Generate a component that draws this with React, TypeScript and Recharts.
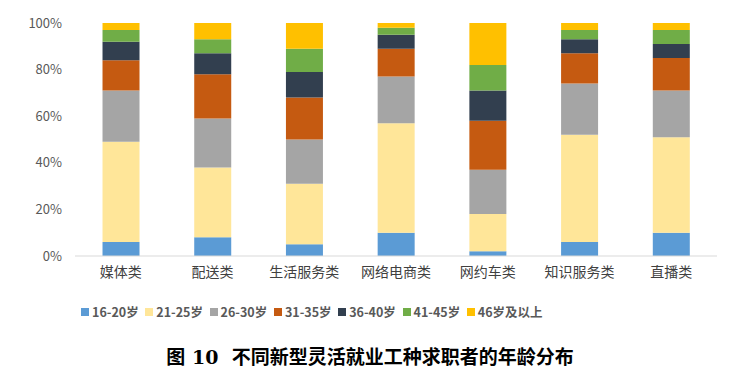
import React from "react";
import { BarChart, Bar, XAxis, YAxis, Legend } from "recharts";

const categories = ["媒体类", "配送类", "生活服务类", "网络电商类", "网约车类", "知识服务类", "直播类"];
const seriesNames = ["16-20岁", "21-25岁", "26-30岁", "31-35岁", "36-40岁", "41-45岁", "46岁及以上"];
const seriesColors = ["#5B9BD5", "#FFE699", "#A5A5A5", "#C55A11", "#323F4F", "#70AD47", "#FFC000"];

const age16_20 = [6, 8, 5, 10, 2, 6, 10];
const age21_25 = [43, 30, 26, 47, 16, 46, 41];
const age26_30 = [22, 21, 19, 20, 19, 22, 20];
const age31_35 = [13, 19, 18, 12, 21, 13, 14];
const age36_40 = [8, 9, 11, 6, 13, 6, 6];
const age41_45 = [5, 6, 10, 3, 11, 4, 6];
const age46plus = [3, 7, 11, 2, 18, 3, 3];

const yTicks = [0, 20, 40, 60, 80, 100];

const seriesValues = [age16_20, age21_25, age26_30, age31_35, age36_40, age41_45, age46plus];

const data = categories.map((c, i) => {
  const row: Record<string, string | number> = { name: c };
  seriesNames.forEach((s, k) => {
    row[s] = seriesValues[k][i];
  });
  return row;
});

const LegendContent = () => (
  <div style={{ display: "flex", position: "relative", height: 16 }}>
    {seriesNames.map((s, k) => (
      <div
        key={s}
        style={{
          position: "absolute",
          left: k * 64.3,
          top: 0,
          display: "flex",
          alignItems: "center",
          whiteSpace: "nowrap",
          fontFamily: '"Noto Sans CJK SC", "Noto Sans", sans-serif',
          fontWeight: 700,
          fontSize: 12.5,
          color: "#595959",
          lineHeight: "16px",
        }}
      >
        <span
          style={{
            display: "inline-block",
            width: 8,
            height: 8,
            background: seriesColors[k],
            marginRight: 3,
          }}
        />
        {s}
      </div>
    ))}
  </div>
);

export default function App() {
  return (
    <div style={{ margin: -8, width: 730, height: 378, position: "relative", background: "#fff" }}>
      <BarChart
        width={730}
        height={330}
        data={data}
        margin={{ top: 23, right: 13, bottom: 44, left: 0 }}
        barCategoryGap="30%"
      >
        <XAxis
          dataKey="name"
          axisLine={{ stroke: "#D9D9D9", strokeWidth: 1 }}
          tickLine={false}
          tickSize={0}
          tickMargin={11}
          interval={0}
          tick={{ fill: "#404040", fontSize: 14, fontFamily: '"Noto Sans CJK SC", sans-serif' }}
          height={30}
        />
        <YAxis
          width={75}
          domain={[0, 100]}
          ticks={yTicks}
          tickFormatter={(v: number) => `${v}%`}
          axisLine={false}
          tickLine={false}
          tickSize={0}
          tickMargin={13}
          tick={{ fill: "#595959", fontSize: 13, fontFamily: '"Noto Sans CJK SC", sans-serif' }}
        />
        <Legend
          layout="horizontal"
          verticalAlign="middle"
          align="center"
          wrapperStyle={{ top: 304, left: 81, width: 470 }}
          content={LegendContent}
        />
        {seriesNames.map((s, k) => (
          <Bar
            key={s}
            dataKey={s}
            stackId="a"
            fill={seriesColors[k]}
            isAnimationActive={false}
          />
        ))}
      </BarChart>
      <div
        style={{
          position: "absolute",
          top: 342,
          left: 0,
          width: 740,
          textAlign: "center",
          fontFamily: '"DejaVu Serif", "Noto Sans CJK SC", serif',
          fontWeight: 700,
          fontSize: 19,
          color: "#000",
          whiteSpace: "pre",
        }}
      >
        {"图 10  不同新型灵活就业工种求职者的年龄分布"}
      </div>
    </div>
  );
}
